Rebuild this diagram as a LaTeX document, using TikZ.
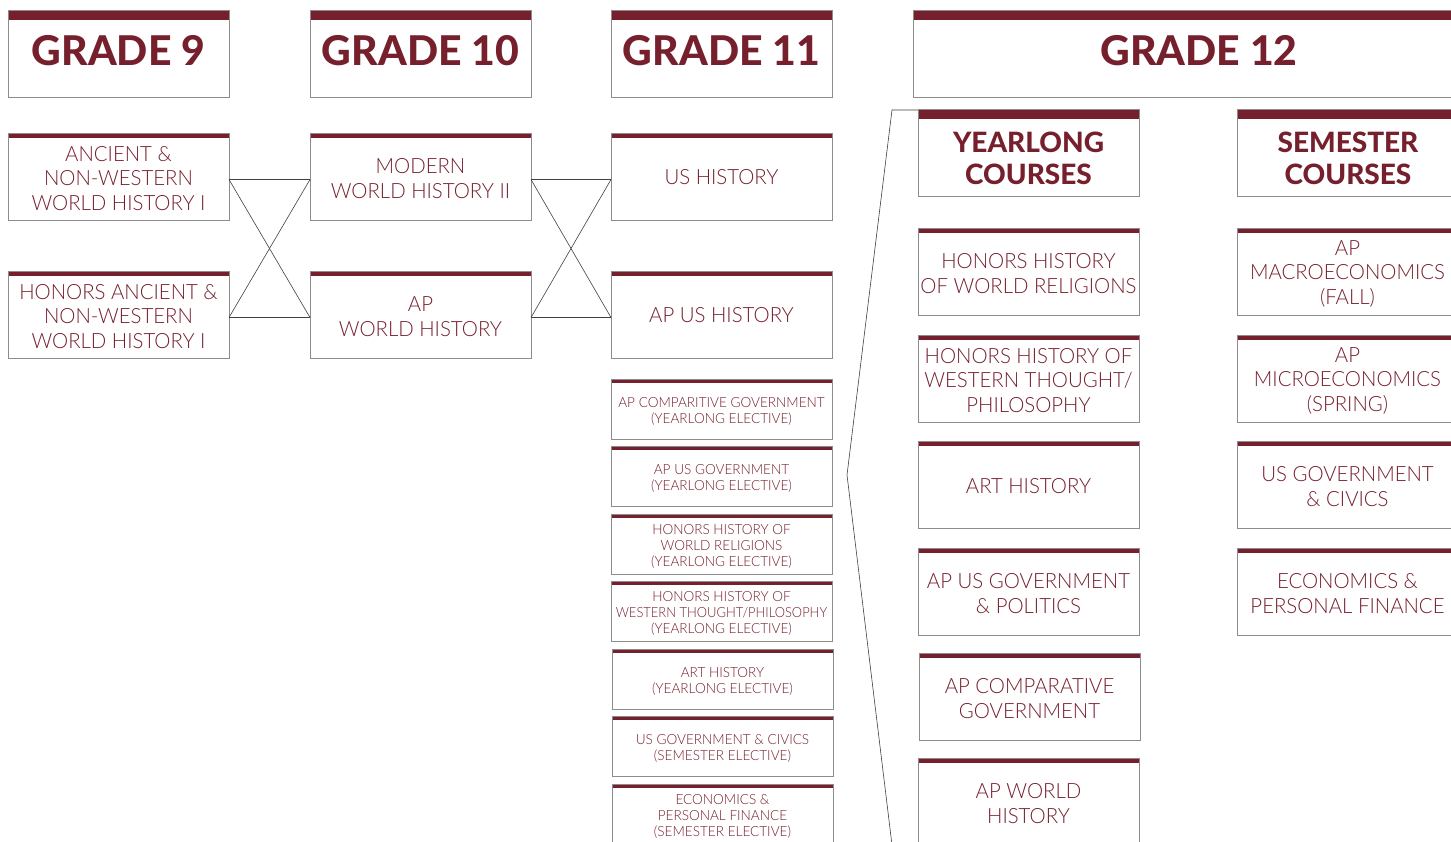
\documentclass[tikz,border=0pt]{standalone}
\usepackage{fontspec}
\setmainfont{Lato}
\IfFontExistsTF{Lato Light}{%
  \newfontfamily\ltc[FakeStretch=0.97]{Lato Light}%
  \newfontfamily\lte[FakeStretch=0.97]{Lato Light}%
  \newfontfamily\ltn[FakeStretch=0.925]{Lato Light}}{%
  \newfontfamily\ltc[FakeStretch=0.96]{Lato}%
  \newfontfamily\lte[FakeStretch=0.91]{Lato}%
  \newfontfamily\ltn[FakeStretch=0.88]{Lato}}
\IfFontExistsTF{Lato Heavy}{\newfontfamily\hvy{Lato Heavy}}{\newfontfamily\hvy{Lato Bold}}
\newcommand\cbx[5][0]{\node[#2] (#3) at (#4) {}; \node[#2 txt] at ([yshift=-#1pt]#3.center) {#5};}
\begin{document}
\begin{tikzpicture}[x=1pt,y=-1pt,
  every node/.style={inner sep=0pt,outer sep=0pt},
  barbox/.style={draw=boxgray,line width=0.9pt,fill=white,anchor=north west,
    path picture={\fill[maroon] (path picture bounding box.north west) rectangle ([yshift=-#1]path picture bounding box.north east);}},
  grade/.style={barbox=10pt,minimum width=221pt,minimum height=87pt},
  grade txt/.style={align=center,text=maroon,font=\hvy\fontsize{41}{46}\selectfont},
  sub/.style={barbox=10pt,minimum width=221pt,minimum height=87pt},
  sub txt/.style={align=center,text=maroon,font=\hvy\fontsize{28}{32}\selectfont},
  course/.style={barbox=5pt,minimum width=221pt,minimum height=87pt},
  course txt/.style={align=center,text=maroon,font=\ltc\fontsize{21}{24.5}\selectfont},
  elect/.style={barbox=4pt,minimum width=221pt,minimum height=60pt},
  elect txt/.style={align=center,text=maroon,font=\lte\fontsize{14}{16}\selectfont},
  link/.style={draw=black!75,line width=0.6pt}]
\definecolor{maroon}{RGB}{118,31,45}
\definecolor{boxgray}{RGB}{140,140,140}
\useasboundingbox[fill=white] (0,0) rectangle (1451,842);

% grade headers
\cbx[-3]{grade}{g9}{8,10}{GRADE 9}
\cbx[-3]{grade}{g10}{310,10}{GRADE 10}
\cbx[-3]{grade}{g11}{611,10}{GRADE 11}
\node[grade,minimum width=572pt] (g12) at (913,10) {};
\node[grade txt] at ([yshift=3pt]g12.center) {GRADE 12};

% grade 9
\cbx[2]{course}{a9}{8,133}{ANCIENT \&\\NON-WESTERN\\WORLD HISTORY I}
\cbx[2]{course}{b9}{8,271}{HONORS ANCIENT \&\\NON-WESTERN\\WORLD HISTORY I}
% grade 10
\cbx[2]{course}{a10}{310,133}{MODERN\\WORLD HISTORY II}
\cbx[2]{course}{b10}{310,271}{AP\\WORLD HISTORY}
% grade 11
\cbx[1]{course}{a11}{611,133}{US HISTORY}
\cbx[1]{course}{b11}{611,271}{AP US HISTORY}
\cbx[2.5]{elect}{e1}{611,379}{AP COMPARITIVE GOVERNMENT\\(YEARLONG ELECTIVE)}
\cbx[2.5]{elect}{e2}{611,446}{AP US GOVERNMENT\\(YEARLONG ELECTIVE)}
\cbx[2.5]{elect}{e3}{611,514}{HONORS HISTORY OF\\WORLD RELIGIONS\\(YEARLONG ELECTIVE)}
\cbx[2.5]{elect}{e4}{611,581}{HONORS HISTORY OF\\{\ltn WESTERN THOUGHT/PHILOSOPHY}\\(YEARLONG ELECTIVE)}
\cbx[2.5]{elect}{e5}{612,649}{ART HISTORY\\(YEARLONG ELECTIVE)}
\cbx[2.5]{elect}{e6}{612,716}{US GOVERNMENT \& CIVICS\\(SEMESTER ELECTIVE)}
\cbx[2.5]{elect}{e7}{612,784}{ECONOMICS \&\\PERSONAL FINANCE\\(SEMESTER ELECTIVE)}

% grade 12 sub headers
\cbx[6]{sub}{yh}{918,109}{YEARLONG\\COURSES}
\node[sub] (sh) at (1237,109) {};
\node[sub txt] at ([xshift=0.5pt,yshift=-6pt]sh.center) {SEMESTER\\COURSES};

% yearlong
\cbx[2]{course}{y1}{918,228}{HONORS HISTORY\\OF WORLD RELIGIONS}
\cbx[2]{course}{y2}{918,335}{HONORS HISTORY OF\\WESTERN THOUGHT/\\PHILOSOPHY}
\cbx[2]{course}{y3}{918,441}{ART HISTORY}
\cbx[2]{course}{y4}{918,548}{AP US GOVERNMENT\\\& POLITICS}
\cbx[2]{course}{y5}{919,653}{AP COMPARATIVE\\GOVERNMENT}
\cbx[2]{course}{y6}{918,758}{AP WORLD\\HISTORY}

% semester
\cbx[2]{course}{s1}{1237,228}{AP\\MACROECONOMICS\\(FALL)}
\cbx[2]{course}{s2}{1237,335}{AP\\MICROECONOMICS\\(SPRING)}
\cbx[2]{course}{s3}{1237,441}{US GOVERNMENT\\\& CIVICS}
\cbx[2]{course}{s4}{1237,548}{ECONOMICS \&\\PERSONAL FINANCE}

% connectors grade 9 -> 10
\draw[link] ([yshift=-3pt]a9.east) -- ([yshift=-3pt]a10.west);
\draw[link] ([yshift=-3pt]a9.east) -- ([yshift=-3pt]b10.west);
\draw[link] ([yshift=-3pt]b9.east) -- ([yshift=-3pt]b10.west);
\draw[link] ([yshift=-3pt]b9.east) -- ([yshift=-3pt]a10.west);
% connectors grade 10 -> 11
\draw[link] ([yshift=-3pt]a10.east) -- ([yshift=-3pt]a11.west);
\draw[link] ([yshift=-3pt]a10.east) -- ([yshift=-3pt]b11.west);
\draw[link] ([yshift=-3pt]b10.east) -- ([yshift=-3pt]b11.west);
\draw[link] ([yshift=-3pt]b10.east) -- ([yshift=-3pt]a11.west);

% bracket
\coordinate (bk1) at (892,110);
\coordinate (bk2) at (847,475);
\coordinate (bk3) at (892,845);
\draw[link] ([yshift=-1pt]yh.north west) -- (bk1) -- (bk2) -- (bk3);
\end{tikzpicture}
\end{document}
